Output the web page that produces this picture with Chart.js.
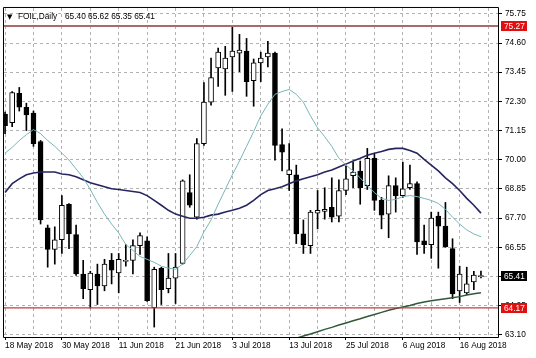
<!DOCTYPE html>
<html><head><meta charset="utf-8">
<script src="https://cdn.jsdelivr.net/npm/chart.js@4.4.1/dist/chart.umd.min.js"></script>
<style>html,body{margin:0;padding:0;background:#fff;overflow:hidden}canvas{display:block}</style>
</head><body>
<canvas id="c" width="536" height="358"></canvas>
<script>
// ---- data ----
const symbol = 'FOIL,Daily';
const xTickLabels = ['18 May 2018','30 May 2018','11 Jun 2018','21 Jun 2018','3 Jul 2018','13 Jul 2018','25 Jul 2018','6 Aug 2018','16 Aug 2018'];
const open  = [71.80,71.46,72.62,72.07,71.84,70.72,67.32,66.47,66.85,68.25,67.05,65.50,64.88,65.50,65.03,66.04,65.54,66.00,66.04,66.62,66.81,64.18,65.73,64.92,65.34,65.92,68.71,67.74,70.64,72.27,73.62,73.58,74.05,74.20,74.28,73.12,73.82,74.05,74.20,70.60,69.41,69.41,67.08,66.62,67.90,67.97,68.13,67.78,68.79,69.37,69.56,68.98,70.06,68.40,67.86,68.98,68.59,68.90,69.06,66.81,66.66,67.78,67.39,66.50,64.84,64.76,65.19,65.40];
const high  = [71.88,72.69,72.85,72.23,71.92,70.76,67.43,67.36,68.59,68.28,67.43,66.04,65.61,65.89,66.08,66.31,66.31,66.66,66.85,67.12,66.97,65.77,65.77,66.31,66.31,69.21,69.41,70.84,73.04,74.01,74.40,74.47,75.27,74.94,74.78,73.97,74.24,74.67,74.24,71.22,70.64,69.79,67.63,68.01,68.79,68.90,69.29,69.21,69.75,69.91,69.95,70.45,70.22,68.52,69.37,69.29,69.91,69.79,69.13,67.43,67.94,67.94,68.32,66.89,65.81,65.77,65.61,65.62];
const low   = [71.03,71.30,71.92,71.15,70.53,67.47,65.77,65.89,66.31,66.50,65.45,64.53,64.16,64.30,64.84,65.11,64.76,65.81,65.50,66.27,64.42,63.41,64.30,64.76,64.34,65.89,68.13,67.66,70.57,72.15,72.89,72.54,72.69,73.47,72.50,72.11,73.08,73.66,69.99,69.56,68.79,66.70,66.31,66.31,67.28,67.66,67.55,67.55,68.63,68.90,68.25,68.83,68.01,67.28,66.93,67.94,68.52,68.83,66.27,66.31,66.12,65.73,66.55,64.53,64.38,64.69,64.88,65.35];
const close = [71.34,72.65,72.07,71.77,70.64,67.63,66.47,66.85,68.21,67.08,65.50,64.92,65.54,65.03,65.89,65.65,66.08,66.04,66.62,67.01,64.45,65.69,64.88,65.34,65.77,69.17,68.21,70.64,72.27,73.24,74.24,74.01,74.28,74.32,73.08,73.82,74.01,74.20,70.57,70.30,69.60,67.08,66.66,67.94,68.01,68.05,67.74,68.79,69.25,69.52,68.90,70.06,68.40,67.82,68.98,68.59,68.86,69.06,66.77,66.66,67.70,67.39,66.58,64.72,65.50,65.11,65.46,65.41];
const maFast = [70.26,70.49,70.76,70.99,71.19,71.03,70.76,70.53,70.26,69.99,69.64,69.29,68.83,68.32,67.86,67.47,67.12,66.66,66.43,66.19,66.08,65.96,65.81,65.73,65.69,65.89,66.23,66.58,67.16,67.63,68.25,68.83,69.41,69.95,70.53,71.11,71.73,72.19,72.58,72.69,72.77,72.58,72.27,71.73,71.26,70.91,70.53,70.06,69.79,69.56,69.29,68.98,68.71,68.48,68.40,68.44,68.55,68.59,68.55,68.48,68.40,68.28,68.05,67.74,67.47,67.24,67.08,66.97];
const maSlow = [68.71,69.06,69.25,69.41,69.48,69.52,69.52,69.52,69.44,69.41,69.33,69.21,69.10,69.02,68.94,68.86,68.83,68.79,68.75,68.71,68.59,68.40,68.21,68.01,67.86,67.78,67.70,67.70,67.74,67.82,67.86,67.94,68.01,68.09,68.21,68.40,68.63,68.79,68.86,68.94,69.06,69.17,69.25,69.33,69.41,69.52,69.60,69.72,69.83,69.95,70.06,70.18,70.26,70.33,70.41,70.45,70.45,70.37,70.26,70.02,69.79,69.56,69.29,69.06,68.79,68.48,68.21,67.90];
const maLong = [null,null,null,null,null,null,null,null,null,null,null,null,null,null,null,null,null,null,null,null,null,null,null,null,null,null,null,null,null,null,null,null,null,null,null,null,null,null,null,null,62.89,62.97,63.06,63.14,63.23,63.32,63.40,63.49,63.57,63.66,63.74,63.83,63.91,63.99,64.07,64.14,64.20,64.26,64.34,64.40,64.45,64.49,64.53,64.57,64.61,64.67,64.72,64.76];
const levels = [75.27, 64.17];
const yTicks = [63.10,64.25,65.40,66.55,67.70,68.85,70.00,71.15,72.30,73.45,74.60,75.75];

// ---- view ----
const X_MIN = -0.15, X_MAX = 69.4, Y_MIN = 63.02, Y_MAX = 75.98;
const FONT = '"Liberation Sans", Arial, sans-serif';
Chart.defaults.font.family = FONT;
Chart.defaults.font.size = 8.3;
Chart.defaults.color = '#000';

const idx = open.map((_, i) => i);
const wickData = idx.map(i => ({x: i, y: [low[i], high[i]]}));
const bodyData = idx.map(i => ({x: i, y: [Math.min(open[i], close[i]), Math.max(open[i], close[i])]}));
const bodyFill = idx.map(i => close[i] >= open[i] ? '#ffffff' : '#000000');
const lineOf = arr => arr.map((v, i) => ({x: i, y: v})).filter(p => p.y !== null);
const levelLine = v => [{x: X_MIN, y: v}, {x: X_MAX, y: v}];
const last = open.length - 1;

const overlay = {
  id: 'overlay',
  afterDraw(chart) {
    const {ctx, chartArea: a, scales: {y}} = chart;
    ctx.save();
    // frame
    ctx.strokeStyle = '#000'; ctx.lineWidth = 1;
    ctx.beginPath();
    ctx.moveTo(a.left - 0.5, a.top - 0.5); ctx.lineTo(a.right + 0.5, a.top - 0.5);
    ctx.moveTo(a.left - 0.5, a.top - 0.5); ctx.lineTo(a.left - 0.5, a.bottom + 0.5);
    ctx.moveTo(a.right + 0.5, a.top - 0.5); ctx.lineTo(a.right + 0.5, a.bottom + 0.5);
    ctx.moveTo(a.left - 0.5, a.bottom + 0.5); ctx.lineTo(a.right + 0.5, a.bottom + 0.5);
    ctx.stroke();
    // title
    ctx.fillStyle = '#000';
    ctx.textBaseline = 'middle';
    ctx.font = '7px "DejaVu Sans"';
    ctx.fillText('\u25BC', a.left + 3, a.top + 9);
    ctx.font = '8.3px ' + FONT;
    ctx.fillText(symbol, a.left + 14, a.top + 9);
    ctx.fillText([open[last], high[last], low[last], close[last]].map(v => v.toFixed(2)).join(' '), a.left + 61, a.top + 9);
    // price boxes on right axis
    const boxes = [[levels[0], '#e01010'], [levels[1], '#e01010'], [close[last], '#000000']];
    for (const [v, col] of boxes) {
      const py = Math.round(y.getPixelForValue(v));
      ctx.fillStyle = col;
      ctx.fillRect(a.right + 3, py - 5, 26, 10);
      ctx.fillStyle = '#fff';
      ctx.fillText(v.toFixed(2), a.right + 6, py + 0.5);
    }
    ctx.restore();
  }
};

new Chart(document.getElementById('c'), {
  type: 'bar',
  data: {
    datasets: [
      {type: 'line', data: levelLine(levels[0]), borderColor: '#a86b6b', borderWidth: 2, pointRadius: 0, order: 1},
      {type: 'line', data: levelLine(levels[1]), borderColor: '#c03c3c', borderWidth: 1.3, pointRadius: 0, order: 1},
      {type: 'line', data: lineOf(maFast), borderColor: '#78b6b8', borderWidth: 1, pointRadius: 0, order: 2},
      {type: 'line', data: lineOf(maSlow), borderColor: '#252560', borderWidth: 1.6, pointRadius: 0, order: 2},
      {type: 'line', data: lineOf(maLong), borderColor: '#2f5a3a', borderWidth: 1.5, pointRadius: 0, order: 2},
      {type: 'bar', data: bodyData, backgroundColor: bodyFill, borderColor: '#000', borderWidth: 1, borderSkipped: false,
       barThickness: 5, grouped: false, minBarLength: 1, order: 4},
      {type: 'bar', data: wickData, backgroundColor: '#000', borderWidth: 0, barThickness: 1, grouped: false, order: 5}
    ]
  },
  options: {
    responsive: false,
    animation: false,
    events: [],
    layout: {padding: {left: 4, top: 2, right: 0, bottom: 0}},
    plugins: {legend: {display: false}, tooltip: {enabled: false}, title: {display: false}},
    scales: {
      x: {
        type: 'linear', min: X_MIN, max: X_MAX, offset: false,
        afterBuildTicks: s => { s.ticks = []; for (let v = 0; v <= 68; v += 4) s.ticks.push({value: v}); },
        afterFit: s => { s.height = 21; },
        grid: {offset: false, color: '#b2b2b2', lineWidth: 1, tickLength: 3, tickBorderDash: [],
               tickColor: c => (c.tick && c.tick.value % 8 === 0 && c.tick.value / 8 < xTickLabels.length) ? '#000' : 'rgba(0,0,0,0)'},
        border: {display: false, dash: [3, 3]},
        ticks: {autoSkip: false, maxRotation: 0, minRotation: 0, align: 'start', padding: 1,
                callback: v => (v % 8 === 0 && v / 8 < xTickLabels.length) ? xTickLabels[v / 8] : ''}
      },
      y: {
        type: 'linear', position: 'right', min: Y_MIN, max: Y_MAX,
        afterBuildTicks: s => { s.ticks = yTicks.map(v => ({value: v})); },
        afterFit: s => { s.width = 38; },
        grid: {color: '#b2b2b2', lineWidth: 1, tickLength: 4, tickColor: '#000', tickBorderDash: []},
        border: {display: false, dash: [3, 3]},
        ticks: {padding: 3, callback: v => Number(v).toFixed(2)}
      }
    }
  },
  plugins: [overlay]
});
</script>
</body></html>
